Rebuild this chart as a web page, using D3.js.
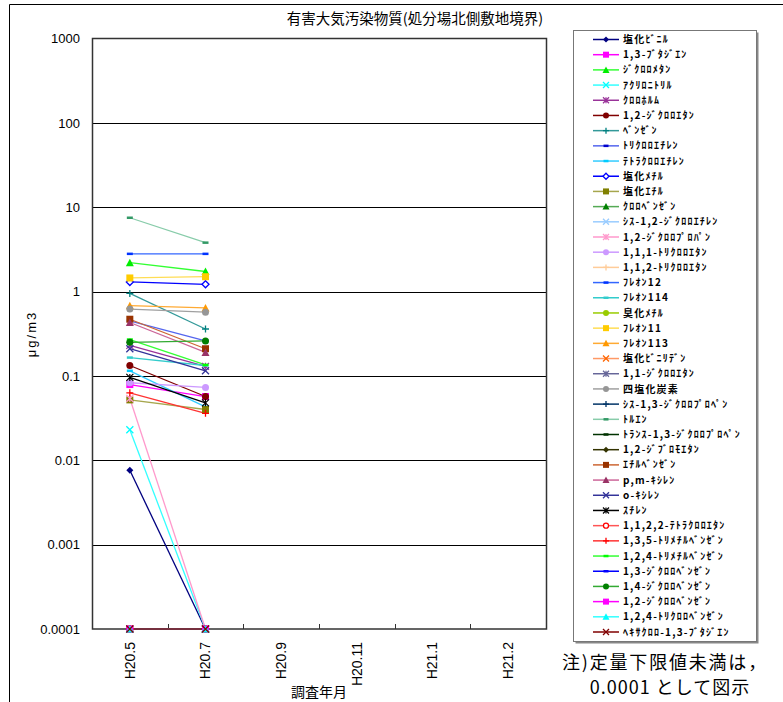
<!DOCTYPE html>
<html><head><meta charset="utf-8">
<script src="https://cdn.jsdelivr.net/npm/d3@7"></script>
<style>
html,body{margin:0;padding:0;background:#fff;}
text{font-family:"Liberation Sans",Arial,sans-serif;}
.jp{font-family:"Noto Sans CJK JP","Noto Sans",sans-serif;}
</style></head>
<body>
<svg id="c" width="783" height="702"></svg>
<script>
// ---- data ----
const categories = ["H20.5","H20.7","H20.9","H20.11","H21.1","H21.2"];
const yTicks = [0.0001,0.001,0.01,0.1,1,10,100,1000];
const yTickLabels = ["0.0001","0.001","0.01","0.1","1","10","100","1000"];
const seriesNames = ["塩化ﾋﾞﾆﾙ","1,3-ﾌﾞﾀｼﾞｴﾝ","ｼﾞｸﾛﾛﾒﾀﾝ","ｱｸﾘﾛﾆﾄﾘﾙ","ｸﾛﾛﾎﾙﾑ","1,2-ｼﾞｸﾛﾛｴﾀﾝ","ﾍﾞﾝｾﾞﾝ","ﾄﾘｸﾛﾛｴﾁﾚﾝ","ﾃﾄﾗｸﾛﾛｴﾁﾚﾝ","塩化ﾒﾁﾙ",
"塩化ｴﾁﾙ","ｸﾛﾛﾍﾞﾝｾﾞﾝ","ｼｽ-1,2-ｼﾞｸﾛﾛｴﾁﾚﾝ","1,2-ｼﾞｸﾛﾛﾌﾟﾛﾊﾟﾝ","1,1,1-ﾄﾘｸﾛﾛｴﾀﾝ","1,1,2-ﾄﾘｸﾛﾛｴﾀﾝ","ﾌﾚｵﾝ12","ﾌﾚｵﾝ114","臭化ﾒﾁﾙ","ﾌﾚｵﾝ11",
"ﾌﾚｵﾝ113","塩化ﾋﾞﾆﾘﾃﾞﾝ","1,1-ｼﾞｸﾛﾛｴﾀﾝ","四塩化炭素","ｼｽ-1,3-ｼﾞｸﾛﾛﾌﾟﾛﾍﾟﾝ","ﾄﾙｴﾝ","ﾄﾗﾝｽ-1,3-ｼﾞｸﾛﾛﾌﾟﾛﾍﾟﾝ","1,2-ｼﾞﾌﾞﾛﾓｴﾀﾝ","ｴﾁﾙﾍﾞﾝｾﾞﾝ","p,m-ｷｼﾚﾝ",
"o-ｷｼﾚﾝ","ｽﾁﾚﾝ","1,1,2,2-ﾃﾄﾗｸﾛﾛｴﾀﾝ","1,3,5-ﾄﾘﾒﾁﾙﾍﾞﾝｾﾞﾝ","1,2,4-ﾄﾘﾒﾁﾙﾍﾞﾝｾﾞﾝ","1,3-ｼﾞｸﾛﾛﾍﾞﾝｾﾞﾝ","1,4-ｼﾞｸﾛﾛﾍﾞﾝｾﾞﾝ","1,2-ｼﾞｸﾛﾛﾍﾞﾝｾﾞﾝ","1,2,4-ﾄﾘｸﾛﾛﾍﾞﾝｾﾞﾝ","ﾍｷｻｸﾛﾛ-1,3-ﾌﾞﾀｼﾞｴﾝ"];
// values at H20.5 and H20.7 (μg/m3); 0.0001 = below limit
const valuesH20_5 = [0.0076,0.079,2.2,0.023,0.23,0.133,0.95,0.45,0.115,1.3,
0.052,0.0001,0.0001,0.054,0.083,0.0001,2.8,0.165,0.0001,1.45,
0.68,0.0001,0.0001,0.62,0.0001,7.5,0.0001,0.0001,0.47,0.43,
0.21,0.096,0.0001,0.063,0.27,0.0001,0.25,0.0001,0.0001,0.0001];
const valuesH20_7 = [0.0001,0.057,1.73,0.0001,0.13,0.057,0.36,0.26,0.043,1.22,
0.040,0.0001,0.0001,0.0001,0.073,0.0001,2.8,0.133,0.0001,1.5,
0.64,0.0001,0.0001,0.57,0.0001,3.8,0.0001,0.0001,0.21,0.19,
0.115,0.048,0.0001,0.036,0.135,0.0001,0.26,0.0001,0.0001,0.0001];

// ---- styles ----
const lineColors = ["#000080","#FF00FF","#33FF33","#33FFFF","#993399","#800000","#339999","#5566EE","#33CCFF","#0000FF",
"#A6A64D","#55AA55","#99CCFF","#FF99CC","#CC99FF","#FFCC99","#3366FF","#33CCCC","#99CC00","#FFDD55",
"#FFAA33","#FF9966","#666699","#A0A0A0","#003366","#88CCAA","#003300","#333300","#CC6633","#CC6699",
"#333399","#000000","#FF5555","#FF3333","#33FF33","#0000FF","#33AA33","#FF00FF","#33FFFF","#800000"];
const markerColors = ["#000080","#FF00FF","#00EE00","#00FFFF","#993399","#800000","#008080","#0000CC","#00CCFF","#0000FF",
"#808000","#008000","#99CCFF","#FF99CC","#CC99FF","#FFCC99","#0033FF","#33CCCC","#99CC00","#FFCC00",
"#FF9900","#FF6600","#666699","#969696","#003366","#339966","#003300","#333300","#993300","#993366",
"#333399","#000000","#FF0000","#FF0000","#00FF00","#0000FF","#008000","#FF00FF","#00FFFF","#800000"];
const markerShapes = ["diamond","square","triangle","x","asterisk","circle","plus","dash","dash","odiamond",
"square","triangle","x","asterisk","circle","plus","dash","dash","circle","square",
"triangle","x","asterisk","circle","plus","dash","dash","diamond","square","triangle",
"x","asterisk","ocircle","plus","dash","dash","circle","square","triangle","x"];

const svg = d3.select("#c");
const M = {l:92, r:546, t:38.5, b:629};
const x = d3.scaleBand().domain(categories).range([M.l, M.r]).padding(0);
const cx = c => x(c) + x.bandwidth()/2;
const y = d3.scaleLog().domain([0.0001,1000]).range([M.b, M.t]);

// outer frame
svg.append("path").attr("d","M9.5,702 V4.5 H783").attr("fill","none").attr("stroke","#000").attr("stroke-width",1);

// title
svg.append("text").attr("class","jp").attr("x",415).attr("y",24).attr("text-anchor","middle")
  .attr("font-size",14.5).attr("fill","#000").text("有害大気汚染物質(処分場北側敷地境界)");

// gridlines
svg.append("g").selectAll("line").data(yTicks.slice(1,-1)).join("line")
  .attr("x1",M.l).attr("x2",M.r).attr("y1",d=>Math.round(y(d))+0.5).attr("y2",d=>Math.round(y(d))+0.5)
  .attr("stroke","#000").attr("stroke-width",1);

// y axis labels
const ya = svg.append("g").attr("transform",`translate(${M.l},0)`)
  .call(d3.axisLeft(y).tickValues(yTicks).tickFormat((d,i)=>yTickLabels[i]).tickSize(0).tickPadding(12));
ya.select(".domain").remove();
ya.selectAll("text").attr("font-size",13).attr("font-family","Liberation Sans, Arial, sans-serif").attr("fill","#000");

// x axis
const xa = svg.append("g").attr("transform",`translate(0,${M.b})`)
  .call(d3.axisBottom(x).tickSize(0).tickPadding(0));
xa.select(".domain").remove();
xa.selectAll("text").attr("font-size",14).attr("font-family","Liberation Sans, Arial, sans-serif").attr("fill","#000")
  .attr("text-anchor","end").attr("transform","rotate(-90)").attr("x",-13).attr("y",0).attr("dy","0.35em").attr("dx",0);
// category separator ticks (inward)
svg.append("g").selectAll("line").data(categories.slice(1)).join("line")
  .attr("x1",d=>Math.round(x(d))+0.5).attr("x2",d=>Math.round(x(d))+0.5).attr("y1",M.b).attr("y2",M.b-5)
  .attr("stroke","#333").attr("stroke-width",1);

// plot border
svg.append("rect").attr("x",M.l+0.5).attr("y",M.t).attr("width",M.r-M.l).attr("height",M.b-M.t)
  .attr("fill","none").attr("stroke","#333").attr("stroke-width",1.5);

// axis titles
svg.append("text").attr("class","jp").attr("x",(M.l+M.r)/2).attr("y",697).attr("text-anchor","middle")
  .attr("font-size",14).text("調査年月");
svg.append("text").attr("transform","translate(36,334) rotate(-90)").attr("text-anchor","middle")
  .attr("font-size",13).attr("letter-spacing",2).text("μg/m3");

// marker drawing
function marker(g, shape, col, s){
  const h = s/2;
  switch(shape){
    case "diamond": g.append("path").attr("d",`M0,${-h}L${h},0L0,${h}L${-h},0Z`).attr("fill",col); break;
    case "odiamond": g.append("path").attr("d",`M0,${-h}L${h},0L0,${h}L${-h},0Z`).attr("fill","#fff").attr("stroke",col).attr("stroke-width",1.3); break;
    case "square": g.append("rect").attr("x",-h).attr("y",-h).attr("width",s).attr("height",s).attr("fill",col); break;
    case "triangle": g.append("path").attr("d",`M0,${-h-0.5}L${h+0.5},${h}L${-h-0.5},${h}Z`).attr("fill",col); break;
    case "circle": g.append("circle").attr("r",h).attr("fill",col); break;
    case "ocircle": g.append("circle").attr("r",h-0.5).attr("fill","#fff").attr("stroke",col).attr("stroke-width",1.3); break;
    case "x": g.append("path").attr("d",`M${-h},${-h}L${h},${h}M${h},${-h}L${-h},${h}`).attr("stroke",col).attr("stroke-width",1.3); break;
    case "plus": g.append("path").attr("d",`M${-h},0L${h},0M0,${-h}L0,${h}`).attr("stroke",col).attr("stroke-width",1.3); break;
    case "asterisk": g.append("path").attr("d",`M${-h},${-h}L${h},${h}M${h},${-h}L${-h},${h}M0,${-h}L0,${h}`).attr("stroke",col).attr("stroke-width",1.2); break;
    case "dash": g.append("path").attr("d",`M${-h+0.5},0L${h-0.5},0`).attr("stroke",col).attr("stroke-width",2.5); break;
  }
}

// series
const series = seriesNames.map((n,i)=>({name:n, i, pts:[{c:categories[0],v:valuesH20_5[i]},{c:categories[1],v:valuesH20_7[i]}]}));
const line = d3.line().x(d=>cx(d.c)).y(d=>y(d.v));
const sg = svg.append("g");
series.forEach(s=>{
  sg.append("path").attr("d",line(s.pts)).attr("fill","none").attr("stroke",lineColors[s.i]).attr("stroke-width",1.3);
});
series.forEach(s=>{
  s.pts.forEach(p=>{
    const g = sg.append("g").attr("transform",`translate(${cx(p.c)},${y(p.v)})`);
    marker(g, markerShapes[s.i], markerColors[s.i], 7);
  });
});

// legend
const L = {x:573.5, y:30.5, w:183, h:611};
svg.append("rect").attr("x",L.x+2).attr("y",L.y+2).attr("width",L.w).attr("height",L.h).attr("fill","#888");
svg.append("rect").attr("x",L.x).attr("y",L.y).attr("width",L.w).attr("height",L.h).attr("fill","#fff").attr("stroke","#777").attr("stroke-width",1);
const ly = d3.scalePoint().domain(d3.range(seriesNames.length)).range([39.5, 632]);
const lg = svg.append("g");
seriesNames.forEach((n,i)=>{
  const yy = ly(i);
  lg.append("line").attr("x1",593).attr("x2",619).attr("y1",yy).attr("y2",yy).attr("stroke",lineColors[i]).attr("stroke-width",1.5);
  const g = lg.append("g").attr("transform",`translate(606,${yy})`);
  marker(g, markerShapes[i], markerColors[i], 6);
  lg.append("text").attr("class","jp").attr("x",623).attr("y",yy).attr("dy","0.36em").attr("font-size",10).attr("letter-spacing",1.2).attr("font-weight","bold").attr("fill","#000").text(n);
});

// footnote
svg.append("text").attr("class","jp").attr("x",665).attr("y",669).attr("text-anchor","middle").attr("font-size",18).attr("letter-spacing",1.8).text("注)定量下限値未満は，");
svg.append("text").attr("class","jp").attr("x",670).attr("y",694).attr("text-anchor","middle").attr("font-size",18).attr("letter-spacing",1).text("0.0001 として図示");
</script>
</body></html>
